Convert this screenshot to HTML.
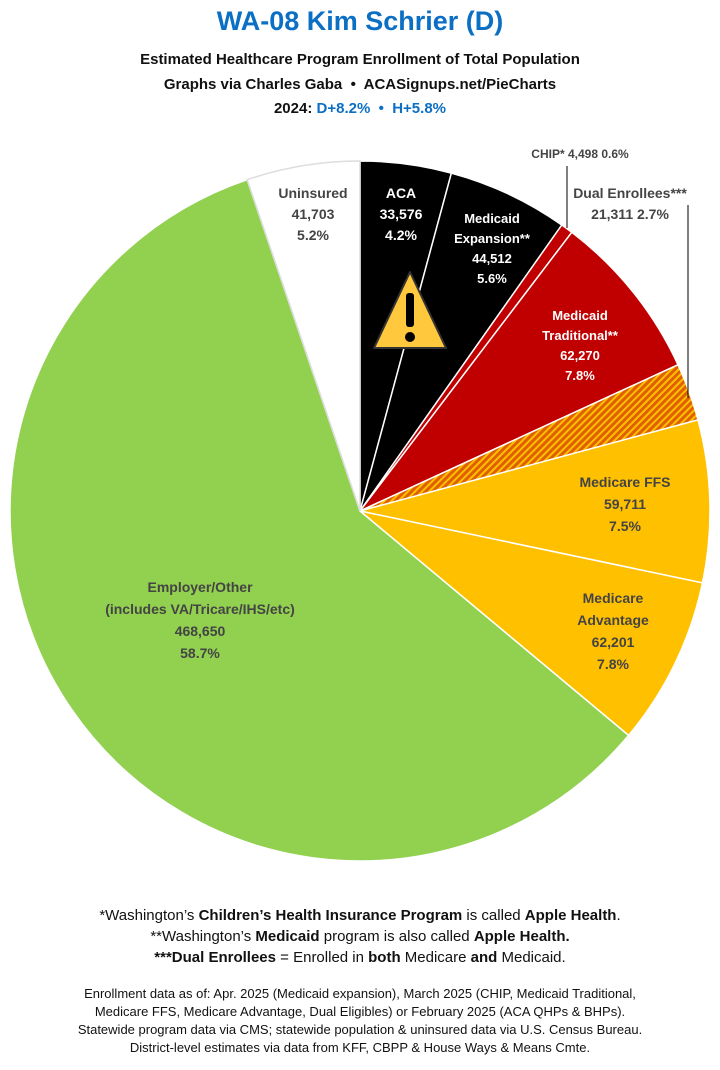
<!DOCTYPE html>
<html><head><meta charset="utf-8"><style>
body{margin:0;width:720px;height:1070px;background:#fff;font-family:"Liberation Sans",sans-serif;overflow:hidden;position:relative}
.c{position:absolute;left:0;width:720px;text-align:center;color:#111}
</style></head><body>
<div class="c" style="top:6px;font-size:27px;font-weight:bold;color:#0b6fc4">WA-08 Kim Schrier (D)</div>
<div class="c" style="top:51px;font-size:15px;font-weight:bold">Estimated Healthcare Program Enrollment of Total Population</div>
<div class="c" style="top:76px;font-size:15px;font-weight:bold">Graphs via Charles Gaba &nbsp;•&nbsp; ACASignups.net/PieCharts</div>
<div class="c" style="top:100px;font-size:15px;font-weight:bold">2024: <span style="color:#0b6fc4">D+8.2% &nbsp;•&nbsp; H+5.8%</span></div>
<svg style="position:absolute;left:0;top:0" width="720" height="1070">
<defs><pattern id="h" width="5" height="5" patternUnits="userSpaceOnUse" patternTransform="rotate(-45)"><rect width="5" height="5" fill="#e06000"/><rect width="5" height="2" fill="#ffc000"/></pattern></defs>
<g stroke="#fff" stroke-width="1.5">
<path d="M360 511 L360 161 A350 350 0 0 1 451.4 173.1Z" fill="#000"/>
<path d="M360 511 L451.4 173.1 A350 350 0 0 1 561.8 225Z" fill="#000"/>
<path d="M360 511 L561.8 225 A350 350 0 0 1 571.8 232.3Z" fill="#c00000"/>
<path d="M360 511 L571.8 232.3 A350 350 0 0 1 678 364.8Z" fill="#c00000"/>
<path d="M360 511 L678 364.8 A350 350 0 0 1 698 419.9Z" fill="url(#h)"/>
<path d="M360 511 L698 419.9 A350 350 0 0 1 702.5 582.9Z" fill="#ffc000"/>
<path d="M360 511 L702.5 582.9 A350 350 0 0 1 628.6 735.4Z" fill="#ffc000"/>
<path d="M360 511 L628.6 735.4 A350 350 0 1 1 247.2 179.7Z" fill="#92d050"/>
<path d="M360 511 L247.2 179.7 A350 350 0 0 1 360 161Z" fill="#fff" stroke="#ddd"/>
</g>
<line x1="567" y1="166" x2="567" y2="228" stroke="#000" stroke-width="1"/>
<line x1="688" y1="205" x2="688" y2="398" stroke="#000" stroke-width="1"/>
<path d="M410 272 L446 348 L374 348Z" fill="#ffc83d" stroke="#333" stroke-width="2" stroke-linejoin="round"/>
<rect x="406" y="293" width="8" height="34" rx="3" fill="#000"/><circle cx="410" cy="337" r="5" fill="#000"/>
<g font-weight="bold" text-anchor="middle" font-size="14">
<g fill="#444"><text x="313" y="198">Uninsured</text><text x="313" y="219">41,703</text><text x="313" y="240">5.2%</text></g>
<g fill="#fff"><text x="401" y="198">ACA</text><text x="401" y="219">33,576</text><text x="401" y="240">4.2%</text></g>
<g fill="#fff" font-size="13"><text x="492" y="223">Medicaid</text><text x="492" y="243">Expansion**</text><text x="492" y="263">44,512</text><text x="492" y="283">5.6%</text></g>
<text x="580" y="158" font-size="12" fill="#444">CHIP* 4,498 0.6%</text>
<g fill="#444"><text x="630" y="198">Dual Enrollees***</text><text x="630" y="219">21,311 2.7%</text></g>
<g fill="#fff" font-size="13"><text x="580" y="320">Medicaid</text><text x="580" y="340">Traditional**</text><text x="580" y="360">62,270</text><text x="580" y="380">7.8%</text></g>
<g fill="#444"><text x="625" y="487">Medicare FFS</text><text x="625" y="509">59,711</text><text x="625" y="531">7.5%</text></g>
<g fill="#444"><text x="613" y="603">Medicare</text><text x="613" y="625">Advantage</text><text x="613" y="647">62,201</text><text x="613" y="669">7.8%</text></g>
<g fill="#444"><text x="200" y="592">Employer/Other</text><text x="200" y="614">(includes VA/Tricare/IHS/etc)</text><text x="200" y="636">468,650</text><text x="200" y="658">58.7%</text></g>
</g>
</svg>
<div class="c" style="top:905px;font-size:15px;line-height:21px">*Washington’s <b>Children’s Health Insurance Program</b> is called <b>Apple Health</b>.<br>**Washington’s <b>Medicaid</b> program is also called <b>Apple Health.</b><br><b>***Dual Enrollees</b> = Enrolled in <b>both</b> Medicare <b>and</b> Medicaid.</div>
<div class="c" style="top:985px;font-size:13px;line-height:18px">Enrollment data as of: Apr. 2025 (Medicaid expansion), March 2025 (CHIP, Medicaid Traditional,<br>Medicare FFS, Medicare Advantage, Dual Eligibles) or February 2025 (ACA QHPs &amp; BHPs).<br>Statewide program data via CMS; statewide population &amp; uninsured data via U.S. Census Bureau.<br>District-level estimates via data from KFF, CBPP &amp; House Ways &amp; Means Cmte.</div>
</body></html>
